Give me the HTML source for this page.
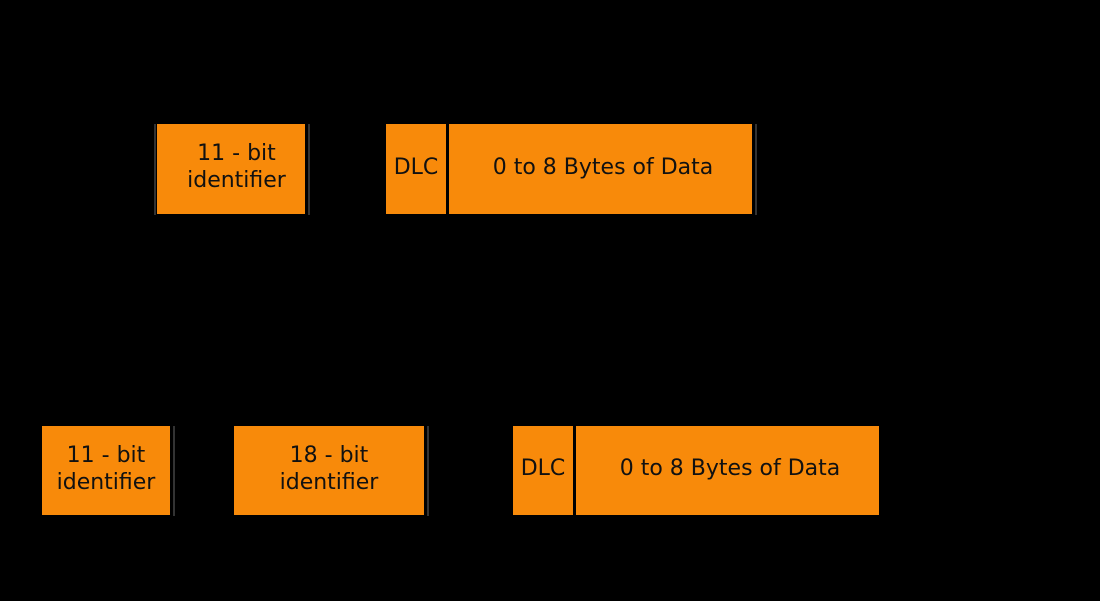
<!DOCTYPE html>
<html><head><style>
body{margin:0;width:1100px;height:601px;background:#000;position:relative;overflow:hidden;font-family:"DejaVu Sans","Liberation Sans",sans-serif;}
.b{position:absolute;background:#f88a0a;color:#111;display:flex;align-items:center;justify-content:center;text-align:center;font-size:22px;line-height:27px;box-sizing:border-box;padding-left:5px;padding-bottom:4px;}
.l{position:absolute;width:2px;background:#333;}
</style></head><body>
<div class="l" style="left:154px;top:124px;height:91px"></div>
<div class="b" style="left:157px;top:124px;width:148px;height:90px"><div style="margin-left:6px">11 - bit<br>identifier</div></div>
<div class="l" style="left:308px;top:124px;height:91px"></div>
<div class="b" style="left:386px;top:124px;width:60px;height:90px;padding-left:0">DLC</div>
<div class="b" style="left:449px;top:124px;width:303px;height:90px">0 to 8 Bytes of Data</div>
<div class="l" style="left:755px;top:124px;height:91px"></div>

<div class="b" style="left:42px;top:426px;width:128px;height:89px;padding-left:0">11 - bit<br>identifier</div>
<div class="l" style="left:173px;top:426px;height:90px"></div>
<div class="b" style="left:234px;top:426px;width:190px;height:89px;padding-left:0">18 - bit<br>identifier</div>
<div class="l" style="left:427px;top:426px;height:90px"></div>
<div class="b" style="left:513px;top:426px;width:60px;height:89px;padding-left:0">DLC</div>
<div class="b" style="left:576px;top:426px;width:303px;height:89px">0 to 8 Bytes of Data</div>
</body></html>
